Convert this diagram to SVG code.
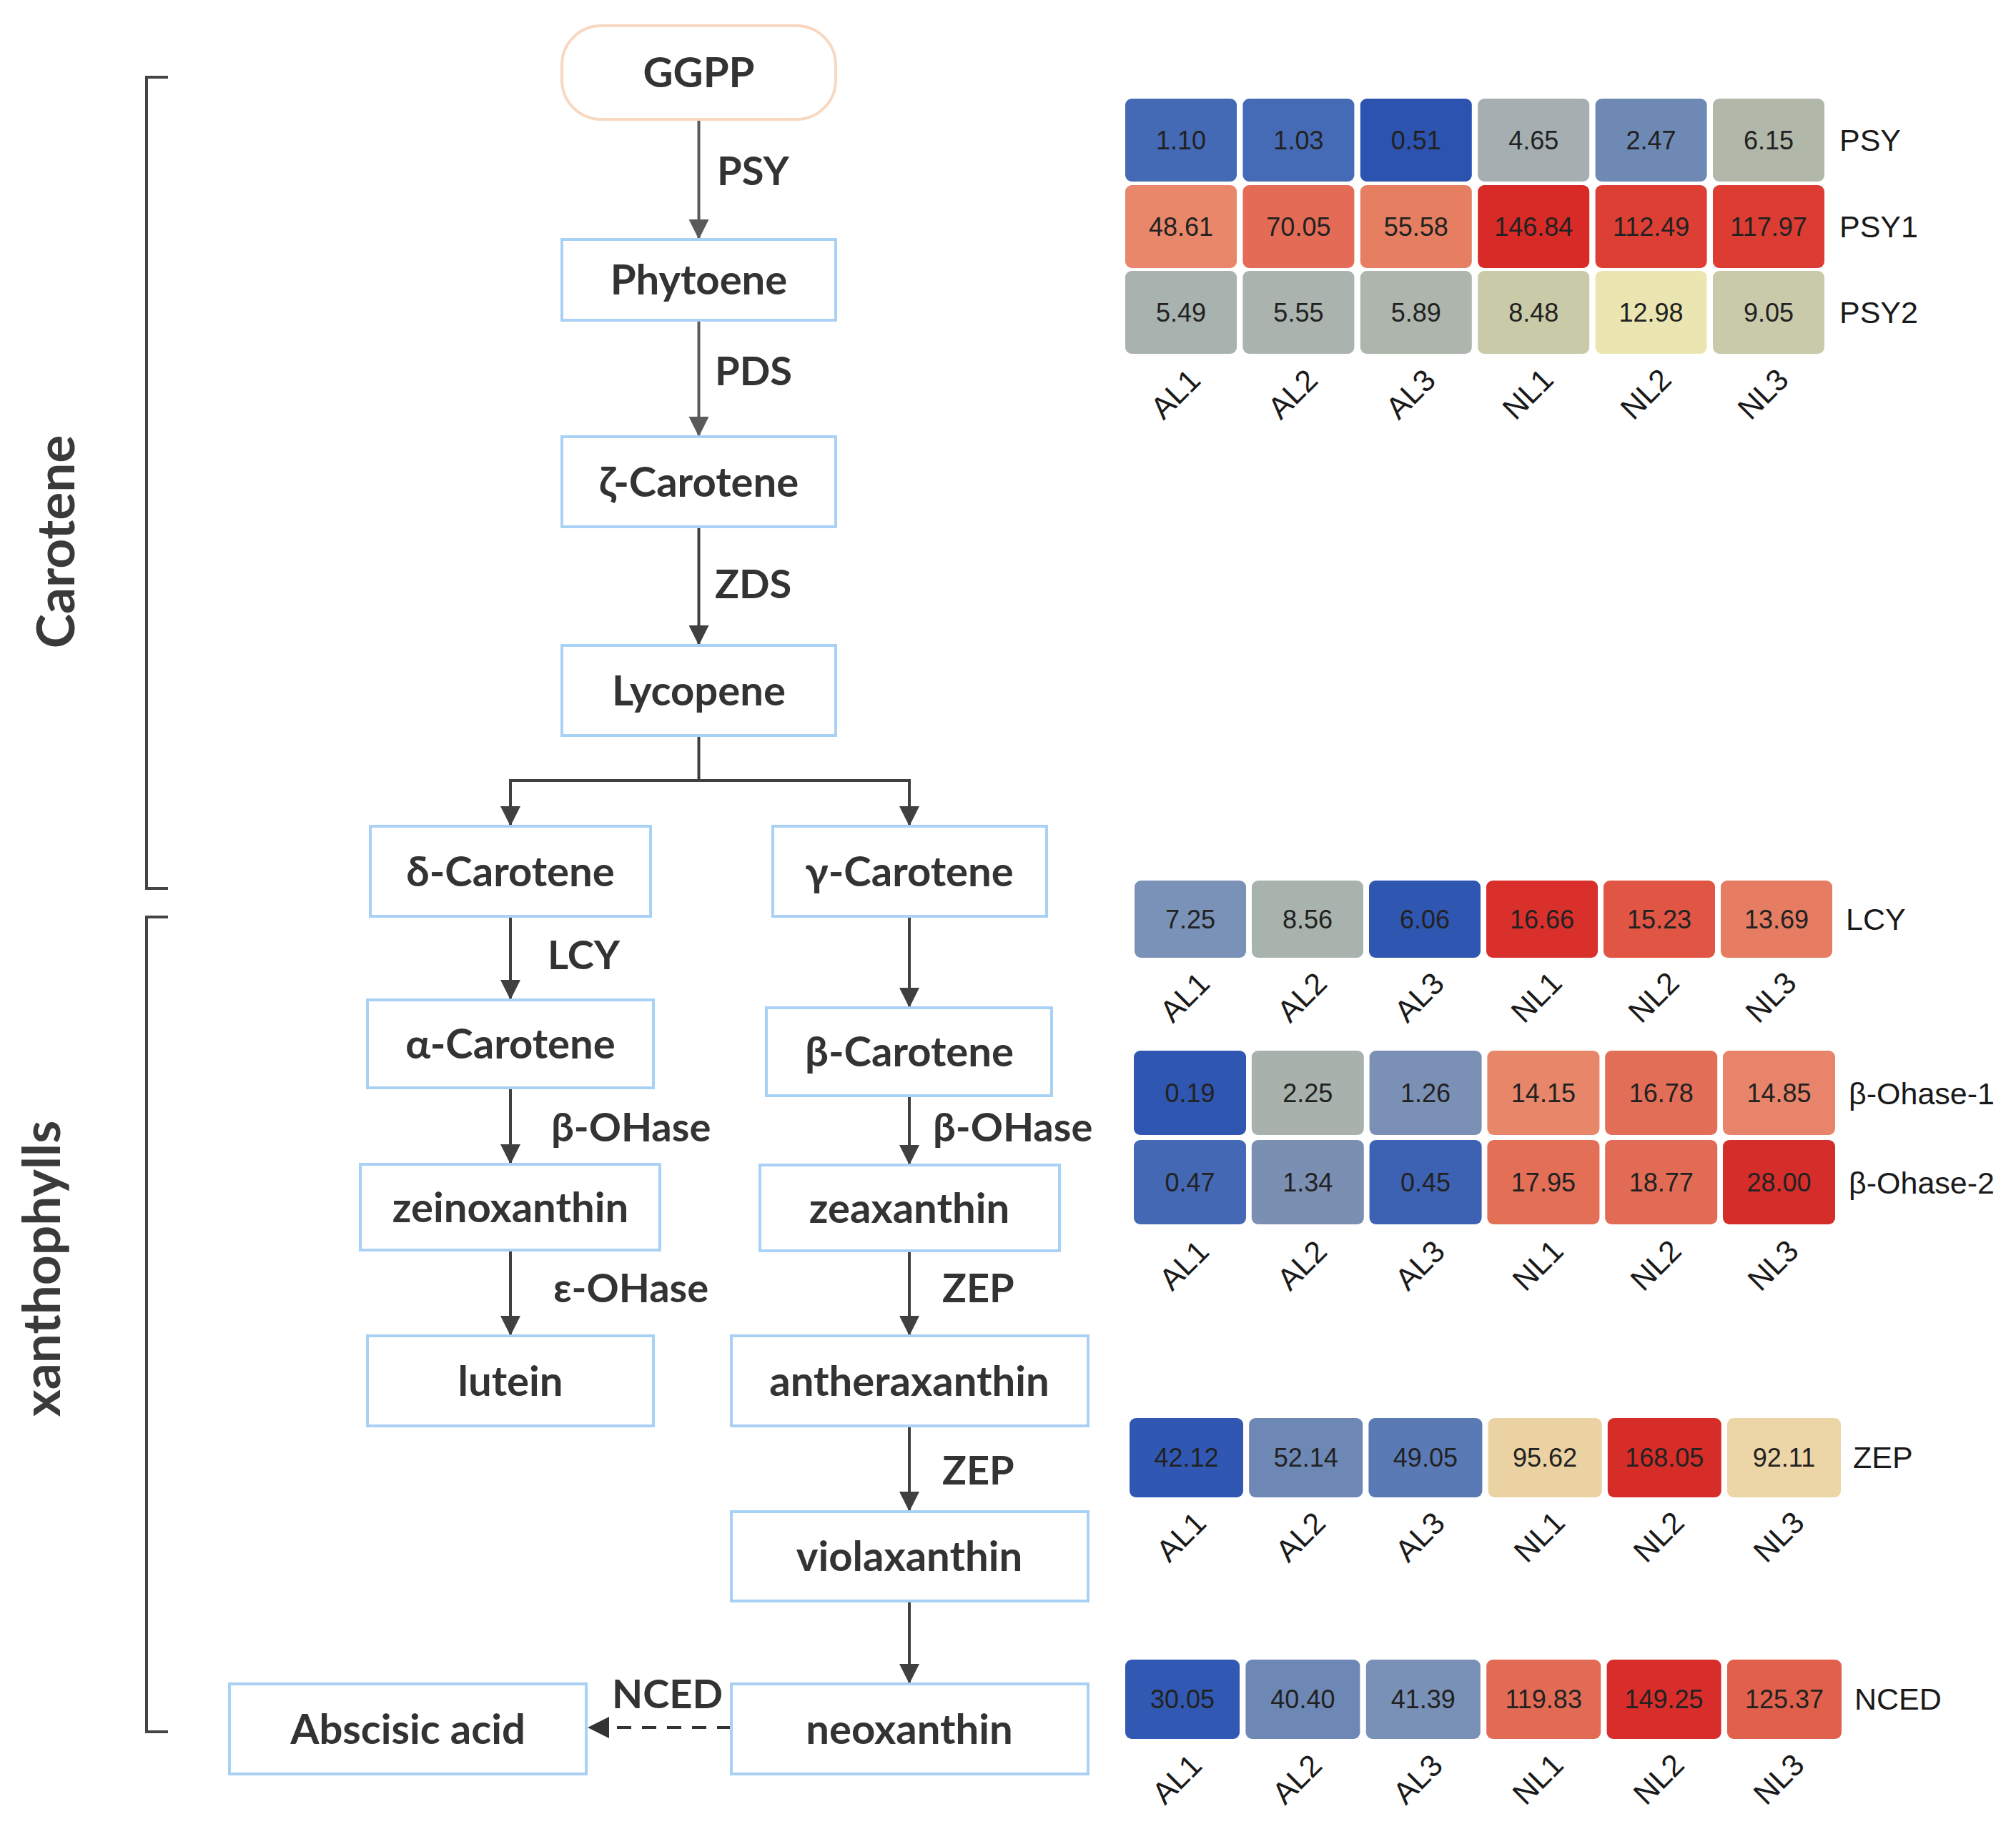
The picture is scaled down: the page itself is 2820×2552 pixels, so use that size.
<svg xmlns="http://www.w3.org/2000/svg" width="2820" height="2552" viewBox="0 0 2820 2552">
<style>
.node{fill:#ffffff;stroke:#a9d0f5;stroke-width:4}
.start{fill:#ffffff;stroke:#f8d8c0;stroke-width:4}
.nl{font-family:Lato,"Open Sans",sans-serif;font-weight:bold;font-size:58px;fill:#333333;text-anchor:middle}
.el{font-family:Lato,"Open Sans",sans-serif;font-weight:bold;font-size:56px;fill:#333333}
.grp{font-family:Lato,"Open Sans",sans-serif;font-weight:bold;font-size:73px;fill:#3a3a3a;text-anchor:middle}
.arr{fill:none;stroke:#404040;stroke-width:4}
.arr2{fill:none;stroke:#5a5a5a;stroke-width:4}
.dash{fill:none;stroke:#333333;stroke-width:4;stroke-dasharray:20 15}
.br{fill:none;stroke:#444444;stroke-width:4}
.num{font-family:"Liberation Sans",Arial,sans-serif;font-size:36px;fill:#222222;text-anchor:middle}
.rl{font-family:"Liberation Sans",Arial,sans-serif;font-size:43px;fill:#1a1a1a}
.cl{font-family:"Liberation Sans",Arial,sans-serif;font-size:43px;fill:#1a1a1a;text-anchor:middle}
</style>
<defs>
<marker id="ah" viewBox="0 0 10 10" refX="10" refY="5" markerWidth="36" markerHeight="28" markerUnits="userSpaceOnUse" orient="auto">
<path d="M0,0 L10,5 L0,10 z" fill="#404040"/>
</marker>
<marker id="ah2" viewBox="0 0 10 10" refX="10" refY="5" markerWidth="36" markerHeight="28" markerUnits="userSpaceOnUse" orient="auto">
<path d="M0,0 L10,5 L0,10 z" fill="#5a5a5a"/>
</marker>
<marker id="ah3" viewBox="0 0 10 10" refX="10" refY="5" markerWidth="36" markerHeight="30" markerUnits="userSpaceOnUse" orient="auto">
<path d="M0,0 L10,5 L0,10 z" fill="#333333"/>
</marker>
</defs>
<rect width="2820" height="2552" fill="#ffffff"/>

<!-- brackets and group labels -->
<g id="group-carotene">
<path class="br" d="M235,108 H205 V1243 H235"/>
<text class="grp" transform="translate(104,758) rotate(-90)">Carotene</text>
</g>
<g id="group-xanthophylls">
<path class="br" d="M235,1283 H205 V2423 H235"/>
<text class="grp" transform="translate(84,1775) rotate(-90)">xanthophylls</text>
</g>

<!-- connectors -->
<g id="connectors">
<path class="arr2" d="M977.5,167 V335" marker-end="url(#ah2)"/>
<path class="arr2" d="M977.5,448 V611" marker-end="url(#ah2)"/>
<path class="arr" d="M977.5,737 V903" marker-end="url(#ah)"/>
<path class="arr" d="M977.5,1029 V1092 H714 V1156" marker-end="url(#ah)"/>
<path class="arr" d="M977.5,1092 H1272 V1156" marker-end="url(#ah)"/>
<path class="arr" d="M714,1282 V1399" marker-end="url(#ah)"/>
<path class="arr" d="M1272,1282 V1410" marker-end="url(#ah)"/>
<path class="arr" d="M714,1522 V1629" marker-end="url(#ah)"/>
<path class="arr" d="M1272,1533 V1630" marker-end="url(#ah)"/>
<path class="arr" d="M714,1749 V1869" marker-end="url(#ah)"/>
<path class="arr" d="M1272,1750 V1869" marker-end="url(#ah)"/>
<path class="arr" d="M1272,1995 V2115" marker-end="url(#ah)"/>
<path class="arr" d="M1272,2240 V2356" marker-end="url(#ah)"/>
<path class="dash" d="M1023,2417 H822" marker-end="url(#ah3)"/>
<text class="el" x="1003" y="259">PSY</text>
<text class="el" x="1000" y="539">PDS</text>
<text class="el" x="1000" y="837">ZDS</text>
<text class="el" x="766" y="1356">LCY</text>
<text class="el" x="771" y="1597">β-OHase</text>
<text class="el" x="1305" y="1597">β-OHase</text>
<text class="el" x="774" y="1822">ε-OHase</text>
<text class="el" x="1318" y="1822">ZEP</text>
<text class="el" x="1318" y="2077">ZEP</text>
<text class="el" x="856" y="2390">NCED</text>
</g>

<!-- nodes -->
<g id="n-ggpp"><rect class="start" x="786" y="36" width="383" height="131" rx="55"/><text class="nl" x="977.5" y="122">GGPP</text></g>
<g id="n-phytoene"><rect class="node" x="786" y="335" width="383" height="113"/><text class="nl" x="977.5" y="412">Phytoene</text></g>
<g id="n-zeta-carotene"><rect class="node" x="786" y="611" width="383" height="126"/><text class="nl" x="977.5" y="695">ζ-Carotene</text></g>
<g id="n-lycopene"><rect class="node" x="786" y="903" width="383" height="126"/><text class="nl" x="977.5" y="987">Lycopene</text></g>
<g id="n-delta-carotene"><rect class="node" x="518" y="1156" width="392" height="126"/><text class="nl" x="714" y="1240">δ-Carotene</text></g>
<g id="n-gamma-carotene"><rect class="node" x="1081" y="1156" width="383" height="126"/><text class="nl" x="1272" y="1240">γ-Carotene</text></g>
<g id="n-alpha-carotene"><rect class="node" x="514" y="1399" width="400" height="123"/><text class="nl" x="714" y="1481">α-Carotene</text></g>
<g id="n-beta-carotene"><rect class="node" x="1072" y="1410" width="399" height="123"/><text class="nl" x="1272" y="1492">β-Carotene</text></g>
<g id="n-zeinoxanthin"><rect class="node" x="504" y="1629" width="419" height="120"/><text class="nl" x="714" y="1710">zeinoxanthin</text></g>
<g id="n-zeaxanthin"><rect class="node" x="1063" y="1630" width="419" height="120"/><text class="nl" x="1272" y="1711">zeaxanthin</text></g>
<g id="n-lutein"><rect class="node" x="514" y="1869" width="400" height="126"/><text class="nl" x="714" y="1953">lutein</text></g>
<g id="n-antheraxanthin"><rect class="node" x="1023" y="1869" width="499" height="126"/><text class="nl" x="1272" y="1953">antheraxanthin</text></g>
<g id="n-violaxanthin"><rect class="node" x="1023" y="2115" width="499" height="125"/><text class="nl" x="1272" y="2198">violaxanthin</text></g>
<g id="n-neoxanthin"><rect class="node" x="1023" y="2356" width="499" height="126"/><text class="nl" x="1272" y="2440">neoxanthin</text></g>
<g id="n-abscisic-acid"><rect class="node" x="321" y="2356" width="499" height="126"/><text class="nl" x="570.5" y="2440">Abscisic acid</text></g>

<!-- heatmap 1: PSY -->
<g id="hm-psy">
<rect x="1574" y="138" width="156" height="116" rx="9" fill="#4469b5"/><text class="num" x="1652" y="209">1.10</text>
<rect x="1738.4" y="138" width="156" height="116" rx="9" fill="#466bb6"/><text class="num" x="1816.4" y="209">1.03</text>
<rect x="1902.8" y="138" width="156" height="116" rx="9" fill="#2c53af"/><text class="num" x="1980.8" y="209">0.51</text>
<rect x="2067.2" y="138" width="156" height="116" rx="9" fill="#a5afb1"/><text class="num" x="2145.2" y="209">4.65</text>
<rect x="2231.6" y="138" width="156" height="116" rx="9" fill="#6e89b4"/><text class="num" x="2309.6" y="209">2.47</text>
<rect x="2396" y="138" width="156" height="116" rx="9" fill="#b1b8aa"/><text class="num" x="2474" y="209">6.15</text>
<rect x="1574" y="259" width="156" height="116" rx="9" fill="#e8876a"/><text class="num" x="1652" y="330">48.61</text>
<rect x="1738.4" y="259" width="156" height="116" rx="9" fill="#e46b55"/><text class="num" x="1816.4" y="330">70.05</text>
<rect x="1902.8" y="259" width="156" height="116" rx="9" fill="#e67f62"/><text class="num" x="1980.8" y="330">55.58</text>
<rect x="2067.2" y="259" width="156" height="116" rx="9" fill="#d82a27"/><text class="num" x="2145.2" y="330">146.84</text>
<rect x="2231.6" y="259" width="156" height="116" rx="9" fill="#dd3f34"/><text class="num" x="2309.6" y="330">112.49</text>
<rect x="2396" y="259" width="156" height="116" rx="9" fill="#dc3c32"/><text class="num" x="2474" y="330">117.97</text>
<rect x="1574" y="379" width="156" height="116" rx="9" fill="#a8b2ae"/><text class="num" x="1652" y="450">5.49</text>
<rect x="1738.4" y="379" width="156" height="116" rx="9" fill="#aab3ae"/><text class="num" x="1816.4" y="450">5.55</text>
<rect x="1902.8" y="379" width="156" height="116" rx="9" fill="#adb5ad"/><text class="num" x="1980.8" y="450">5.89</text>
<rect x="2067.2" y="379" width="156" height="116" rx="9" fill="#c9caa8"/><text class="num" x="2145.2" y="450">8.48</text>
<rect x="2231.6" y="379" width="156" height="116" rx="9" fill="#ebe6b1"/><text class="num" x="2309.6" y="450">12.98</text>
<rect x="2396" y="379" width="156" height="116" rx="9" fill="#c9caa9"/><text class="num" x="2474" y="450">9.05</text>
<text class="rl" x="2573" y="211">PSY</text>
<text class="rl" x="2573" y="332">PSY1</text>
<text class="rl" x="2573" y="452">PSY2</text>
<text class="cl" transform="translate(1644,551) rotate(-45)" dy="15">AL1</text>
<text class="cl" transform="translate(1808,551) rotate(-45)" dy="15">AL2</text>
<text class="cl" transform="translate(1973,551) rotate(-45)" dy="15">AL3</text>
<text class="cl" transform="translate(2137,551) rotate(-45)" dy="15">NL1</text>
<text class="cl" transform="translate(2302,551) rotate(-45)" dy="15">NL2</text>
<text class="cl" transform="translate(2466,551) rotate(-45)" dy="15">NL3</text>
</g>

<!-- heatmap 2: LCY -->
<g id="hm-lcy">
<rect x="1587" y="1232" width="156" height="108" rx="9" fill="#7a92b7"/><text class="num" x="1665" y="1299">7.25</text>
<rect x="1751" y="1232" width="156" height="108" rx="9" fill="#a9b3ad"/><text class="num" x="1829" y="1299">8.56</text>
<rect x="1915" y="1232" width="156" height="108" rx="9" fill="#2f57b2"/><text class="num" x="1993" y="1299">6.06</text>
<rect x="2079" y="1232" width="156" height="108" rx="9" fill="#d9302b"/><text class="num" x="2157" y="1299">16.66</text>
<rect x="2243" y="1232" width="156" height="108" rx="9" fill="#e05543"/><text class="num" x="2321" y="1299">15.23</text>
<rect x="2407" y="1232" width="156" height="108" rx="9" fill="#e67d62"/><text class="num" x="2485" y="1299">13.69</text>
<text class="rl" x="2582" y="1301">LCY</text>
<text class="cl" transform="translate(1657,1395) rotate(-45)" dy="15">AL1</text>
<text class="cl" transform="translate(1821,1395) rotate(-45)" dy="15">AL2</text>
<text class="cl" transform="translate(1985,1395) rotate(-45)" dy="15">AL3</text>
<text class="cl" transform="translate(2149,1395) rotate(-45)" dy="15">NL1</text>
<text class="cl" transform="translate(2313,1395) rotate(-45)" dy="15">NL2</text>
<text class="cl" transform="translate(2477,1395) rotate(-45)" dy="15">NL3</text>
</g>

<!-- heatmap 3: beta-Ohase -->
<g id="hm-bohase">
<rect x="1586" y="1470" width="157" height="118" rx="9" fill="#2f56b0"/><text class="num" x="1664.5" y="1542">0.19</text>
<rect x="1750.8" y="1470" width="157" height="118" rx="9" fill="#a8b1ab"/><text class="num" x="1829.3" y="1542">2.25</text>
<rect x="1915.6" y="1470" width="157" height="118" rx="9" fill="#7a90b5"/><text class="num" x="1994.1" y="1542">1.26</text>
<rect x="2080.4" y="1470" width="157" height="118" rx="9" fill="#e8866a"/><text class="num" x="2158.9" y="1542">14.15</text>
<rect x="2245.2" y="1470" width="157" height="118" rx="9" fill="#e36e57"/><text class="num" x="2323.7" y="1542">16.78</text>
<rect x="2410" y="1470" width="157" height="118" rx="9" fill="#e7846a"/><text class="num" x="2488.5" y="1542">14.85</text>
<rect x="1586" y="1595" width="157" height="118" rx="9" fill="#4468b4"/><text class="num" x="1664.5" y="1667">0.47</text>
<rect x="1750.8" y="1595" width="157" height="118" rx="9" fill="#7b8fb2"/><text class="num" x="1829.3" y="1667">1.34</text>
<rect x="1915.6" y="1595" width="157" height="118" rx="9" fill="#3d62b4"/><text class="num" x="1994.1" y="1667">0.45</text>
<rect x="2080.4" y="1595" width="157" height="118" rx="9" fill="#e36f57"/><text class="num" x="2158.9" y="1667">17.95</text>
<rect x="2245.2" y="1595" width="157" height="118" rx="9" fill="#e26b55"/><text class="num" x="2323.7" y="1667">18.77</text>
<rect x="2410" y="1595" width="157" height="118" rx="9" fill="#d52e2a"/><text class="num" x="2488.5" y="1667">28.00</text>
<text class="rl" x="2586" y="1545">β-Ohase-1</text>
<text class="rl" x="2586" y="1670">β-Ohase-2</text>
<text class="cl" transform="translate(1656,1770) rotate(-45)" dy="15">AL1</text>
<text class="cl" transform="translate(1821,1770) rotate(-45)" dy="15">AL2</text>
<text class="cl" transform="translate(1986,1770) rotate(-45)" dy="15">AL3</text>
<text class="cl" transform="translate(2151,1770) rotate(-45)" dy="15">NL1</text>
<text class="cl" transform="translate(2316,1770) rotate(-45)" dy="15">NL2</text>
<text class="cl" transform="translate(2480,1770) rotate(-45)" dy="15">NL3</text>
</g>

<!-- heatmap 4: ZEP -->
<g id="hm-zep">
<rect x="1580" y="1984" width="159" height="111" rx="9" fill="#3058b3"/><text class="num" x="1659.5" y="2052">42.12</text>
<rect x="1747.2" y="1984" width="159" height="111" rx="9" fill="#6e88b6"/><text class="num" x="1826.7" y="2052">52.14</text>
<rect x="1914.4" y="1984" width="159" height="111" rx="9" fill="#5a7ab6"/><text class="num" x="1993.9" y="2052">49.05</text>
<rect x="2081.6" y="1984" width="159" height="111" rx="9" fill="#ebd2a3"/><text class="num" x="2161.1" y="2052">95.62</text>
<rect x="2248.8" y="1984" width="159" height="111" rx="9" fill="#d72d29"/><text class="num" x="2328.3" y="2052">168.05</text>
<rect x="2416" y="1984" width="159" height="111" rx="9" fill="#ecd5a6"/><text class="num" x="2495.5" y="2052">92.11</text>
<text class="rl" x="2592" y="2054">ZEP</text>
<text class="cl" transform="translate(1652,2150) rotate(-45)" dy="15">AL1</text>
<text class="cl" transform="translate(1819,2150) rotate(-45)" dy="15">AL2</text>
<text class="cl" transform="translate(1986,2150) rotate(-45)" dy="15">AL3</text>
<text class="cl" transform="translate(2153,2150) rotate(-45)" dy="15">NL1</text>
<text class="cl" transform="translate(2320,2150) rotate(-45)" dy="15">NL2</text>
<text class="cl" transform="translate(2488,2150) rotate(-45)" dy="15">NL3</text>
</g>

<!-- heatmap 5: NCED -->
<g id="hm-nced">
<rect x="1574" y="2322" width="160" height="111" rx="9" fill="#3158b2"/><text class="num" x="1654" y="2390">30.05</text>
<rect x="1742.4" y="2322" width="160" height="111" rx="9" fill="#6e88b6"/><text class="num" x="1822.4" y="2390">40.40</text>
<rect x="1910.8" y="2322" width="160" height="111" rx="9" fill="#7990b7"/><text class="num" x="1990.8" y="2390">41.39</text>
<rect x="2079.2" y="2322" width="160" height="111" rx="9" fill="#e26b55"/><text class="num" x="2159.2" y="2390">119.83</text>
<rect x="2247.6" y="2322" width="160" height="111" rx="9" fill="#d82d2a"/><text class="num" x="2327.6" y="2390">149.25</text>
<rect x="2416" y="2322" width="160" height="111" rx="9" fill="#e0604c"/><text class="num" x="2496" y="2390">125.37</text>
<text class="rl" x="2594" y="2392">NCED</text>
<text class="cl" transform="translate(1646,2489) rotate(-45)" dy="15">AL1</text>
<text class="cl" transform="translate(1814,2489) rotate(-45)" dy="15">AL2</text>
<text class="cl" transform="translate(1983,2489) rotate(-45)" dy="15">AL3</text>
<text class="cl" transform="translate(2151,2489) rotate(-45)" dy="15">NL1</text>
<text class="cl" transform="translate(2320,2489) rotate(-45)" dy="15">NL2</text>
<text class="cl" transform="translate(2488,2489) rotate(-45)" dy="15">NL3</text>
</g>
</svg>
